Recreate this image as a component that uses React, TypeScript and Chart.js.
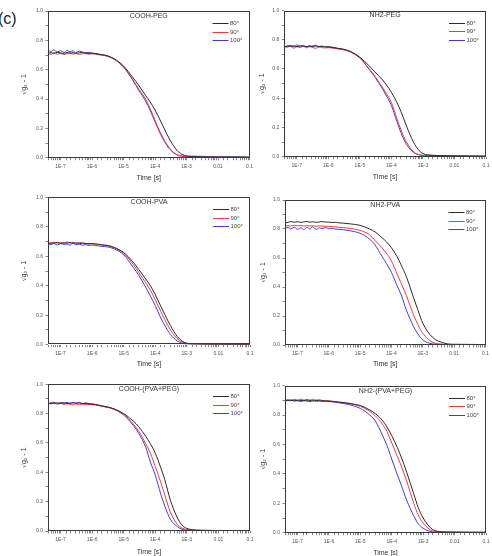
import React, { useEffect, useRef } from 'react';
import { Chart, registerables } from 'chart.js';

Chart.register(...registerables);

const FONT = '"Liberation Sans", Arial, Helvetica, sans-serif';

// Time axis sample points [s]
const TIME = [
  4e-8, 5e-8, 6e-8, 8e-8, 1e-7, 1.3e-7, 1.6e-7, 2e-7, 2.5e-7, 3e-7, 4e-7, 5e-7, 6e-7, 8e-7, 1e-6, 1.3e-6, 1.6e-6, 2e-6, 3e-6,
  5e-6, 1e-5, 2e-5, 3e-5, 5e-5, 7e-5, 1e-4, 1.5e-4, 2e-4, 3e-4, 5e-4, 7e-4, 1e-3, 2e-3, 5e-3, 1e-2, 3e-2, 1e-1,
];

const ANGLE_LABELS = ['80°', '90°', '100°'];
const X_TICK_VALUES = [1e-7, 1e-6, 1e-5, 1e-4, 1e-3, 1e-2, 1e-1];
const X_TICK_LABELS = ['1E-7', '1E-6', '1E-5', '1E-4', '1E-3', '0.01', '0.1'];
const Y_TICK_LABELS = ['0.0', '0.2', '0.4', '0.6', '0.8', '1.0'];

// COOH-PEG
const COOH_PEG_80 = [0.712,0.716,0.713,0.718,0.714,0.711,0.717,0.713,0.716,0.712,0.715,0.718,0.713,0.711,0.712,0.709,0.706,0.703,0.695, 0.675,0.625,0.545,0.495,0.425,0.38,0.325,0.25,0.195,0.12,0.05,0.025,0.012,0.006,0.004,0.003,0.004,0.002];
const COOH_PEG_90 = [0.708,0.704,0.712,0.706,0.711,0.703,0.709,0.713,0.705,0.71,0.704,0.709,0.712,0.706,0.708,0.705,0.702,0.699,0.692, 0.672,0.62,0.53,0.47,0.40,0.335,0.255,0.168,0.118,0.06,0.02,0.01,0.006,0.005,0.004,0.004,0.003,0.002];
const COOH_PEG_100 = [0.732,0.724,0.735,0.721,0.729,0.718,0.731,0.722,0.728,0.716,0.726,0.72,0.714,0.718,0.713,0.71,0.706,0.702,0.694, 0.673,0.618,0.525,0.462,0.387,0.322,0.245,0.16,0.11,0.055,0.02,0.012,0.01,0.01,0.008,0.007,0.006,0.005];

// NH2-PEG
const NH2_PEG_80 = [0.752,0.756,0.754,0.758,0.753,0.757,0.755,0.752,0.756,0.754,0.757,0.753,0.755,0.752,0.75,0.748,0.745,0.741,0.735, 0.72,0.68,0.62,0.58,0.53,0.49,0.44,0.37,0.31,0.21,0.10,0.05,0.022,0.01,0.006,0.005,0.004,0.003];
const NH2_PEG_90 = [0.754,0.748,0.757,0.742,0.752,0.746,0.758,0.744,0.753,0.749,0.741,0.751,0.747,0.744,0.746,0.743,0.74,0.737,0.731, 0.716,0.675,0.60,0.55,0.48,0.43,0.37,0.26,0.185,0.10,0.035,0.015,0.008,0.006,0.005,0.004,0.004,0.003];
const NH2_PEG_100 = [0.75,0.758,0.761,0.753,0.764,0.756,0.762,0.751,0.76,0.755,0.763,0.752,0.757,0.75,0.754,0.749,0.745,0.741,0.734, 0.718,0.676,0.595,0.545,0.47,0.415,0.35,0.24,0.165,0.085,0.03,0.015,0.01,0.008,0.007,0.006,0.005,0.004];

// COOH-PVA
const COOH_PVA_80 = [0.686,0.69,0.688,0.692,0.687,0.691,0.689,0.693,0.688,0.69,0.686,0.689,0.687,0.685,0.686,0.683,0.681,0.678,0.674, 0.66,0.625,0.56,0.51,0.445,0.40,0.34,0.26,0.205,0.13,0.055,0.025,0.01,0.006,0.004,0.004,0.003,0.003];
const COOH_PVA_90 = [0.692,0.688,0.696,0.69,0.694,0.689,0.697,0.691,0.695,0.688,0.693,0.69,0.687,0.684,0.685,0.682,0.68,0.676,0.672, 0.657,0.62,0.545,0.49,0.42,0.37,0.305,0.225,0.17,0.10,0.04,0.018,0.008,0.005,0.004,0.003,0.003,0.002];
const COOH_PVA_100 = [0.684,0.679,0.688,0.676,0.686,0.68,0.683,0.675,0.69,0.678,0.682,0.674,0.679,0.673,0.676,0.672,0.67,0.667,0.664, 0.65,0.61,0.525,0.47,0.39,0.33,0.265,0.18,0.13,0.07,0.025,0.01,0.005,0.004,0.003,0.003,0.002,0.002];

// NH2-PVA
const NH2_PVA_80 = [0.842,0.846,0.851,0.847,0.85,0.846,0.849,0.852,0.847,0.85,0.846,0.849,0.851,0.848,0.847,0.845,0.846,0.843,0.84, 0.835,0.825,0.80,0.78,0.74,0.71,0.67,0.61,0.555,0.47,0.33,0.24,0.15,0.055,0.012,0.005,0.004,0.003];
const NH2_PVA_90 = [0.818,0.823,0.82,0.826,0.821,0.825,0.819,0.824,0.82,0.823,0.818,0.822,0.82,0.819,0.818,0.816,0.815,0.812,0.81, 0.803,0.79,0.76,0.72,0.67,0.63,0.58,0.49,0.43,0.34,0.21,0.14,0.08,0.02,0.005,0.003,0.003,0.002];
const NH2_PVA_100 = [0.805,0.81,0.802,0.812,0.798,0.809,0.795,0.811,0.8,0.815,0.797,0.808,0.803,0.81,0.801,0.805,0.8,0.798,0.795, 0.787,0.77,0.73,0.69,0.61,0.56,0.50,0.41,0.35,0.24,0.13,0.075,0.035,0.008,0.003,0.003,0.002,0.002];

// COOH-(PVA+PEG)
const COOH_MIX_80 = [0.868,0.872,0.869,0.873,0.87,0.874,0.869,0.872,0.875,0.87,0.873,0.868,0.871,0.867,0.865,0.862,0.858,0.853,0.846, 0.832,0.80,0.75,0.71,0.645,0.595,0.53,0.43,0.35,0.21,0.09,0.04,0.018,0.006,0.004,0.003,0.003,0.002];
const COOH_MIX_90 = [0.872,0.866,0.874,0.864,0.87,0.862,0.868,0.865,0.859,0.867,0.862,0.866,0.86,0.863,0.861,0.858,0.855,0.85,0.843, 0.83,0.795,0.73,0.68,0.595,0.53,0.44,0.33,0.245,0.13,0.045,0.02,0.01,0.005,0.004,0.003,0.003,0.002];
const COOH_MIX_100 = [0.866,0.874,0.878,0.868,0.876,0.87,0.877,0.867,0.875,0.871,0.878,0.866,0.873,0.868,0.866,0.862,0.858,0.852,0.845, 0.83,0.79,0.72,0.665,0.57,0.47,0.38,0.25,0.17,0.08,0.03,0.012,0.006,0.004,0.003,0.003,0.002,0.002];

// NH2-(PVA+PEG)
const NH2_MIX_80 = [0.898,0.902,0.899,0.901,0.897,0.9,0.898,0.902,0.899,0.896,0.9,0.898,0.897,0.896,0.895,0.893,0.891,0.889,0.885, 0.878,0.865,0.835,0.81,0.765,0.72,0.66,0.58,0.515,0.41,0.265,0.17,0.10,0.022,0.005,0.004,0.003,0.003];
const NH2_MIX_90 = [0.9,0.904,0.898,0.907,0.902,0.909,0.903,0.906,0.901,0.908,0.902,0.905,0.9,0.898,0.897,0.894,0.892,0.889,0.884, 0.876,0.86,0.825,0.795,0.74,0.69,0.61,0.52,0.455,0.35,0.20,0.12,0.065,0.012,0.004,0.003,0.003,0.002];
const NH2_MIX_100 = [0.902,0.897,0.905,0.894,0.9,0.892,0.898,0.895,0.891,0.899,0.893,0.897,0.892,0.895,0.893,0.89,0.887,0.884,0.878, 0.868,0.845,0.80,0.76,0.665,0.595,0.50,0.395,0.325,0.22,0.115,0.06,0.03,0.006,0.003,0.003,0.002,0.002];

const LINE_COLORS = ['#2a2a2a', '#ee3b3b', '#3d3de0'];

type PanelProps = {
  title: string;
  series: number[][];
  left: number;
  top: number;
  width: number;
  plotL: number;
  plotT: number;
  plotR: number;
  plotB: number;
  yTitleX: number;
  xTitleY: number;
};

function Panel(p: PanelProps) {
  const ref = useRef<HTMLCanvasElement | null>(null);
  const height = Math.round(p.xTitleY + 5.2 - p.top);

  useEffect(() => {
    if (!ref.current) return;
    const yW = p.plotL - p.left;
    const padTop = p.plotT - p.top;
    const padRight = p.left + p.width - p.plotR;
    const xH = p.top + height - p.plotB;

    const framePlugin = {
      id: 'frame',
      afterDatasetsDraw(chart: any) {
        const { ctx, chartArea: a } = chart;
        ctx.save();
        ctx.strokeStyle = '#3a3a3a';
        ctx.lineWidth = 1;
        ctx.strokeRect(Math.round(a.left) + 0.5, Math.round(a.top) + 0.5, Math.round(a.right - a.left) - 1, Math.round(a.bottom - a.top) - 1);
        // inner title
        ctx.fillStyle = '#333';
        ctx.font = `7px ${FONT}`;
        ctx.textAlign = 'center';
        ctx.textBaseline = 'middle';
        ctx.fillText(p.title, (a.left + a.right) / 2, a.top + 5);
        // legend
        chart.data.datasets.forEach((ds: any, i: number) => {
          const y = Math.round(a.top + 12 + i * 8.5) + 0.5;
          ctx.strokeStyle = ds.borderColor;
          ctx.beginPath();
          ctx.moveTo(a.right - 37, y);
          ctx.lineTo(a.right - 21, y);
          ctx.stroke();
          ctx.fillStyle = '#444';
          ctx.font = `6px ${FONT}`;
          ctx.textAlign = 'left';
          ctx.fillText(ds.label, a.right - 19.5, y);
        });
        ctx.restore();
      },
    };

    const chart = new Chart(ref.current, {
      type: 'line',
      data: {
        datasets: p.series.map((vals, i) => ({
          label: ANGLE_LABELS[i],
          data: TIME.map((t, k) => ({ x: t, y: vals[k] })),
          borderColor: LINE_COLORS[i],
          borderWidth: 1,
          pointRadius: 0,
          cubicInterpolationMode: 'monotone' as const,
          fill: false,
        })),
      },
      options: {
        animation: false,
        responsive: false,
        devicePixelRatio: 1,
        layout: { padding: { top: padTop, right: padRight, left: 0, bottom: 0 } },
        plugins: { legend: { display: false }, tooltip: { enabled: false }, title: { display: false } },
        scales: {
          x: {
            type: 'logarithmic',
            min: 4e-8,
            max: 0.1,
            afterFit: (s: any) => {
              s.height = xH;
              s.paddingLeft = 0;
              s.paddingRight = 0;
            },
            ticks: {
              autoSkip: false,
              maxRotation: 0,
              minRotation: 0,
              padding: 3,
              color: '#555',
              font: { size: 5, family: FONT },
              callback: (v: any) => {
                const val = Number(v);
                const idx = X_TICK_VALUES.findIndex((d) => Math.abs(Math.log10(d) - Math.log10(val)) < 1e-6);
                return idx >= 0 ? X_TICK_LABELS[idx] : '';
              },
            },
            grid: { drawOnChartArea: false, drawTicks: true, tickLength: 2.5, color: '#666', lineWidth: 0.8 },
            border: { display: false },
            title: {
              display: true,
              text: 'Time [s]',
              color: '#333',
              font: { size: 7, family: FONT },
              padding: { top: 0, bottom: 1 },
            },
          },
          y: {
            type: 'linear',
            min: 0,
            max: 1,
            afterFit: (s: any) => {
              s.width = yW;
              s.paddingTop = 0;
              s.paddingBottom = 0;
            },
            ticks: {
              stepSize: 0.1,
              autoSkip: false,
              padding: 2.5,
              color: '#555',
              font: { size: 5, family: FONT },
              callback: (v: any) => {
                const k = Math.round(Number(v) * 10);
                return k % 2 === 0 ? Y_TICK_LABELS[k / 2] : '';
              },
            },
            grid: { drawOnChartArea: false, drawTicks: true, tickLength: 2.5, color: '#666', lineWidth: 0.8 },
            border: { display: false },
            title: {
              display: true,
              text: '√g₂ - 1',
              color: '#333',
              font: { size: 7, family: FONT },
              padding: { top: p.yTitleX - p.left - 4.2, bottom: 0 },
            },
          },
        },
      },
      plugins: [framePlugin],
    } as any);
    return () => chart.destroy();
  }, []);

  return (
    <canvas
      ref={ref}
      width={p.width}
      height={height}
      style={{ position: 'absolute', left: p.left, top: p.top, width: p.width, height }}
    />
  );
}

export default function App() {
  return (
    <div style={{ position: 'absolute', left: 0, top: 0, width: 492, height: 556, overflow: 'hidden', background: '#fff' }}>
      <div style={{ position: 'absolute', left: -2, top: 10, fontSize: 16, lineHeight: '18px', fontFamily: FONT, color: '#222' }}>(c)</div>
      <Panel title="COOH-PEG" series={[COOH_PEG_80, COOH_PEG_90, COOH_PEG_100]}
        left={0} top={0} width={256} plotL={48} plotT={11} plotR={249.5} plotB={157.7} yTitleX={24} xTitleY={177.7} />
      <Panel title="NH2-PEG" series={[NH2_PEG_80, NH2_PEG_90, NH2_PEG_100]}
        left={250} top={0} width={242} plotL={284.3} plotT={10.5} plotR={486} plotB={156.7} yTitleX={262} xTitleY={176.7} />
      <Panel title="COOH-PVA" series={[COOH_PVA_80, COOH_PVA_90, COOH_PVA_100]}
        left={0} top={185} width={256} plotL={48} plotT={197.3} plotR={250} plotB={344.7} yTitleX={24} xTitleY={364} />
      <Panel title="NH2-PVA" series={[NH2_PVA_80, NH2_PVA_90, NH2_PVA_100]}
        left={250} top={185} width={242} plotL={285} plotT={200} plotR={485.5} plotB={345} yTitleX={263} xTitleY={363.7} />
      <Panel title="COOH-(PVA+PEG)" series={[COOH_MIX_80, COOH_MIX_90, COOH_MIX_100]}
        left={0} top={370} width={256} plotL={48} plotT={384.3} plotR={250} plotB={531} yTitleX={24} xTitleY={551.7} />
      <Panel title="NH2-(PVA+PEG)" series={[NH2_MIX_80, NH2_MIX_90, NH2_MIX_100]}
        left={250} top={370} width={242} plotL={285} plotT={385.7} plotR={486} plotB={532.7} yTitleX={263} xTitleY={553} />
    </div>
  );
}
